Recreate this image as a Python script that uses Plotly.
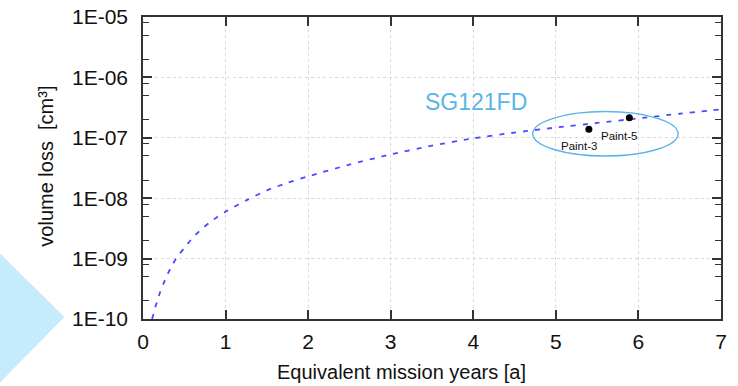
import plotly.graph_objects as go

# Curve (SG121FD volume loss vs equivalent mission years)
years = [0.11, 0.13, 0.15, 0.18, 0.2, 0.25, 0.3, 0.35, 0.4, 0.5, 0.6, 0.7,
         0.8, 0.9, 1.0, 1.25, 1.5, 1.75, 2.0, 2.5, 3.0, 3.5, 4.0, 4.5, 5.0,
         5.5, 6.0, 6.5, 7.0]
volume_loss = [1.0e-10, 1.25e-10, 1.6e-10, 2.1e-10, 2.6e-10, 3.9e-10,
               5.6e-10, 7.6e-10, 1.0e-9, 1.5e-9, 2.2e-9, 3.0e-9, 3.9e-9,
               4.9e-9, 6.0e-9, 9.2e-9, 1.35e-8, 1.8e-8, 2.3e-8, 3.6e-8,
               5.3e-8, 7.4e-8, 9.8e-8, 1.22e-7, 1.48e-7, 1.76e-7, 2.1e-7,
               2.5e-7, 2.95e-7]

# Measured points
point_names = ["Paint-3", "Paint-5"]
point_years = [5.40, 5.89]
point_loss = [1.38e-7, 2.14e-7]

# Tick labels
x_ticks = [0, 1, 2, 3, 4, 5, 6, 7]
y_ticks = [1e-10, 1e-9, 1e-8, 1e-7, 1e-6, 1e-5]
y_tick_text = ["1E-10", "1E-09", "1E-08", "1E-07", "1E-06", "1E-05"]
y_minor = [m * 10.0 ** e for e in range(-10, -5) for m in (2, 5, 8)]

BLUE_TXT = "#5ab4e8"
FONT = "Liberation Sans, Arial, sans-serif"
GRID = "#d9d9d9"

fig = go.Figure()
fig.add_trace(go.Scatter(
    x=years, y=volume_loss, mode="lines",
    line=dict(color="#4b4bff", width=1.8, dash="5px,7px", shape="spline",
              smoothing=0.6),
    showlegend=False, hoverinfo="skip"))
fig.add_trace(go.Scatter(
    x=point_years, y=point_loss, mode="markers",
    marker=dict(color="black", size=7),
    showlegend=False, text=point_names))

# ellipse around the points
fig.add_shape(type="circle", xref="x", yref="y",
              x0=4.72, x1=6.48, y0=4.99e-8, y1=2.72e-7,
              line=dict(color=BLUE_TXT, width=1.4))

# light blue decorative triangle at lower left
fig.add_shape(type="path", xref="paper", yref="paper",
              path="M -0.25 0.222 L -0.136 0.0066 L -0.25 -0.215 Z",
              fillcolor="#c6ebfc", line=dict(width=0), layer="below")

annotations = [
    dict(x=4.03, y=-6.40, xref="x", yref="y", text="SG121FD",
         showarrow=False, font=dict(family=FONT, size=23, color=BLUE_TXT)),
    dict(x=5.28, y=-7.142, xref="x", yref="y", text=point_names[0],
         showarrow=False, font=dict(family=FONT, size=11.5, color="#111")),
    dict(x=5.77, y=-6.977, xref="x", yref="y", text=point_names[1],
         showarrow=False, font=dict(family=FONT, size=11.5, color="#111")),
    dict(x=0.448, y=-0.175, xref="paper", yref="paper",
         text="Equivalent mission years [a]", showarrow=False,
         yanchor="middle", font=dict(family=FONT, size=20, color="#111")),
    dict(x=-0.19, y=0.505, xref="paper", yref="paper",
         text="volume loss  [cm³]", textangle=-90, showarrow=False,
         font=dict(family=FONT, size=20, color="#111")),
]

fig.update_layout(
    width=738, height=386,
    margin=dict(l=143, r=17, t=17, b=67, autoexpand=False),
    paper_bgcolor="white", plot_bgcolor="white",
    font=dict(family=FONT, color="#111"),
    annotations=annotations,
    showlegend=False,
)
fig.update_xaxes(
    range=[0, 7], tickvals=x_ticks, ticks="inside", ticklen=9,
    tickcolor="#333", tickwidth=1.5, automargin=False,
    showline=True, linecolor="#333", linewidth=1.5, mirror="ticks",
    showgrid=True, gridcolor=GRID, griddash="dot", gridwidth=1,
    zeroline=False, tickfont=dict(size=21, family=FONT, color="#111"),
    ticklabelstandoff=3,
)
fig.update_yaxes(
    type="log", range=[-10, -5], tickvals=y_ticks, ticktext=y_tick_text,
    ticks="inside", ticklen=9, tickcolor="#333", tickwidth=1.5,
    automargin=False,
    showline=True, linecolor="#333", linewidth=1.5, mirror="ticks",
    showgrid=True, gridcolor=GRID, griddash="dot", gridwidth=1,
    zeroline=False, tickfont=dict(size=21, family=FONT, color="#111"),
    ticklabelstandoff=9,
    minor=dict(tickvals=y_minor, ticks="inside", ticklen=6,
               tickcolor="#333", tickwidth=1.2, showgrid=False),
)

fig.write_html("out.html")
